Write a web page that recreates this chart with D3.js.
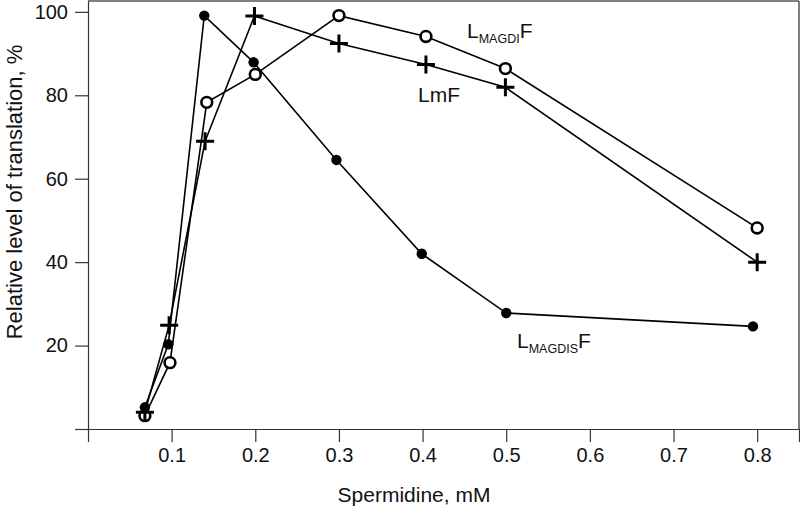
<!DOCTYPE html>
<html>
<head>
<meta charset="utf-8">
<script src="https://cdn.jsdelivr.net/npm/d3@7"></script>
<style>
  body { margin: 0; background: #fff; }
  svg { display: block; font-family: "Liberation Sans", Arial, sans-serif; }
  .axis path, .axis line { stroke: #333; stroke-width: 1.2px; }
  .axis text { font-size: 20px; fill: #111; font-family: "Liberation Sans", Arial, sans-serif; }
</style>
</head>
<body>
<script>
var width = 800,
    height = 509;

// values (spermidine mM, relative translation %)
var dotX    = [0.068, 0.096, 0.139, 0.198, 0.297, 0.399, 0.5, 0.795];
var dotY    = [5.2, 20.3, 99.1, 87.9, 64.5, 42.0, 27.8, 24.6];   // LMAGDISF
var circleX = [0.068, 0.098, 0.142, 0.2, 0.3, 0.404, 0.499, 0.8];
var circleY = [3.2, 15.9, 78.3, 85.0, 99.1, 94.1, 86.4, 48.2];   // LMAGDIF
var crossX  = [0.068, 0.097, 0.14, 0.199, 0.3, 0.404, 0.499, 0.8];
var crossY  = [4.0, 24.9, 69.0, 99.0, 92.4, 87.4, 81.9, 40.0];   // LmF

var xTicks = [0, 0.1, 0.2, 0.3, 0.4, 0.5, 0.6, 0.7, 0.8, 0.85];
var yTicks = [0, 20, 40, 60, 80, 100];

var svg = d3.select("body").append("svg")
    .attr("width", width)
    .attr("height", height);

var x = d3.scaleLinear().domain([0, 0.85]).range([88, 799]);
var y = d3.scaleLinear().domain([0, 102.6]).range([429, 1]);

// frame top and right
svg.append("line").attr("x1", x(0)).attr("x2", x(0.85)).attr("y1", y(102.6)).attr("y2", y(102.6))
    .style("stroke", "#555").style("stroke-width", 1.5);
svg.append("line").attr("x1", x(0.85)).attr("x2", x(0.85)).attr("y1", y(102.6)).attr("y2", y(0))
    .style("stroke", "#555").style("stroke-width", 1.5);

svg.append("g")
    .attr("class", "axis")
    .attr("transform", "translate(0," + y(0) + ")")
    .call(d3.axisBottom(x)
        .tickValues(xTicks)
        .tickSize(13)
        .tickSizeOuter(0)
        .tickPadding(6)
        .tickFormat(function(d) { return (d === 0 || d === 0.85) ? "" : d3.format(".1f")(d); }));

svg.append("g")
    .attr("class", "axis")
    .attr("transform", "translate(" + x(0) + ",0)")
    .call(d3.axisLeft(y)
        .tickValues(yTicks)
        .tickSize(13)
        .tickSizeOuter(0)
        .tickPadding(7)
        .tickFormat(function(d) { return d === 0 ? "" : d; }));

function pts(xs, ys) {
    return xs.map(function(v, i) { return [v, ys[i]]; });
}

var line = d3.line()
    .x(function(d) { return x(d[0]); })
    .y(function(d) { return y(d[1]); });

var series = [pts(dotX, dotY), pts(circleX, circleY), pts(crossX, crossY)];
series.forEach(function(s) {
    svg.append("path")
        .attr("d", line(s))
        .style("fill", "none")
        .style("stroke", "#000")
        .style("stroke-width", 1.6);
});

// filled dots
svg.selectAll(".dot")
    .data(series[0])
    .enter().append("circle")
    .attr("class", "dot")
    .attr("cx", function(d) { return x(d[0]); })
    .attr("cy", function(d) { return y(d[1]); })
    .attr("r", 5.2)
    .style("fill", "#000");

// open circles
svg.selectAll(".ring")
    .data(series[1])
    .enter().append("circle")
    .attr("class", "ring")
    .attr("cx", function(d) { return x(d[0]); })
    .attr("cy", function(d) { return y(d[1]); })
    .attr("r", 5.4)
    .style("fill", "#fff")
    .style("stroke", "#000")
    .style("stroke-width", 2.6);

// crosses
svg.selectAll(".cross")
    .data(series[2])
    .enter().append("path")
    .attr("class", "cross")
    .attr("d", function(d) {
        var cx = x(d[0]), cy = y(d[1]);
        return "M" + (cx - 9) + "," + cy + "H" + (cx + 9) + "M" + cx + "," + (cy - 9) + "V" + (cy + 9);
    })
    .style("stroke", "#000")
    .style("stroke-width", 3);

// series labels
function subLabel(px, py, sub) {
    var t = svg.append("text")
        .attr("x", px).attr("y", py)
        .style("font-size", "21px").style("fill", "#111");
    t.append("tspan").text("L");
    t.append("tspan").attr("dy", 5).style("font-size", "12.5px").text(sub);
    t.append("tspan").attr("dy", -5).text("F");
}
subLabel(467, 38, "MAGDI");
subLabel(517, 348, "MAGDIS");

svg.append("text")
    .attr("x", 418).attr("y", 102)
    .style("font-size", "21px").style("fill", "#111")
    .text("LmF");

// axis titles
svg.append("text")
    .attr("x", 414).attr("y", 502)
    .attr("text-anchor", "middle")
    .style("font-size", "21px").style("fill", "#111")
    .text("Spermidine, mM");

svg.append("text")
    .attr("transform", "translate(22,192) rotate(-90)")
    .attr("text-anchor", "middle")
    .style("font-size", "22px").style("fill", "#111")
    .text("Relative level of translation, %");
</script>
</body>
</html>
